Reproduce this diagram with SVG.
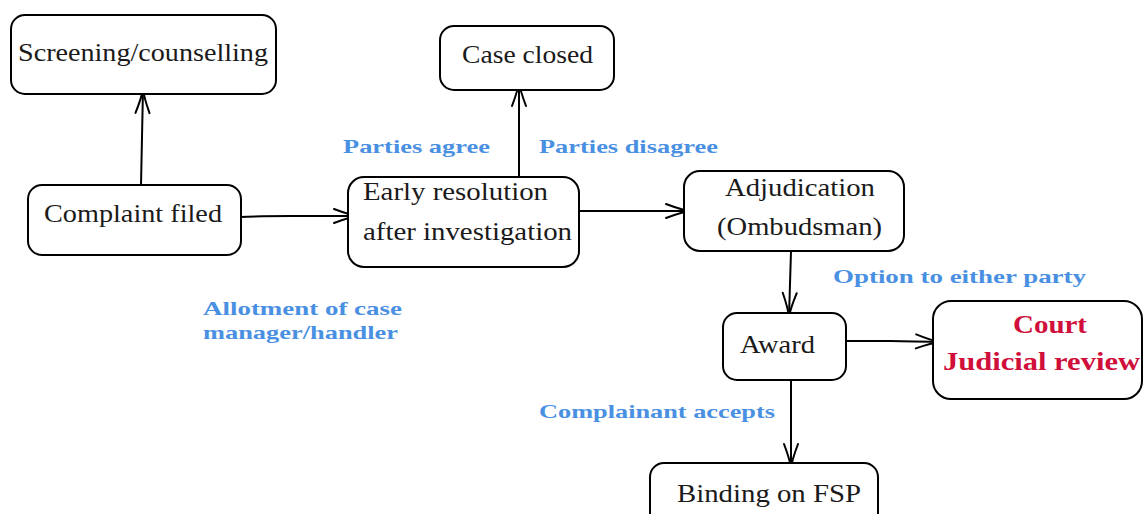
<svg xmlns="http://www.w3.org/2000/svg" width="1143" height="514" viewBox="0 0 1143 514">
<style>
.box{fill:#fff;stroke:#000;stroke-width:2}
text{font-family:'Liberation Serif','DejaVu Serif','Times New Roman',serif}
.t{font-size:26px;fill:#1a1a1a}
.b{font-size:19px;font-weight:bold;fill:#4a90e2}
.r{font-size:26px;font-weight:bold;fill:#d0103a}
.c{fill:none;stroke:#000;stroke-width:2;marker-end:url(#arr)}
</style>
<defs>
<marker id="arr" markerUnits="userSpaceOnUse" markerWidth="40" markerHeight="30" refX="0" refY="0" orient="auto" overflow="visible">
<path d="M-24,-7 Q-8,-1 0,0 Q-8,1 -24,7" fill="none" stroke="#000" stroke-width="2" stroke-linecap="round"/>
</marker>
</defs>
<rect width="1143" height="514" fill="#fff"/>
<g id="connectors">
<path class="c" d="M141,185 L143,89"/>
<path class="c" d="M240,217 Q260,216 290,216 L358,216"/>
<path class="c" d="M519,177 L519,82"/>
<path class="c" d="M579,211 L690,211"/>
<path class="c" d="M791,251 L789,317"/>
<path class="c" d="M846,341 L890,341 Q900,341 940,342"/>
<path class="c" d="M791,380 L791,468"/>
</g>
<g id="n-screening">
<rect class="box" x="11" y="15" width="265" height="79" rx="14"/>
<text class="t" font-family="Liberation Serif, DejaVu Serif, serif" x="18" y="61" textLength="250" lengthAdjust="spacingAndGlyphs">Screening/counselling</text>
</g>
<g id="n-complaint">
<rect class="box" x="28" y="185" width="213" height="70" rx="14"/>
<text class="t" x="44" y="222" textLength="178" lengthAdjust="spacingAndGlyphs">Complaint filed</text>
</g>
<g id="n-caseclosed">
<rect class="box" x="440" y="26" width="174" height="64" rx="14"/>
<text class="t" x="462" y="63" textLength="131" lengthAdjust="spacingAndGlyphs">Case closed</text>
</g>
<g id="n-early">
<rect class="box" x="348" y="177" width="231" height="90" rx="16"/>
<text class="t" x="363" y="200" textLength="185" lengthAdjust="spacingAndGlyphs">Early resolution</text>
<text class="t" x="363" y="240" textLength="209" lengthAdjust="spacingAndGlyphs">after investigation</text>
</g>
<g id="n-adjudication">
<rect class="box" x="684" y="171" width="220" height="80" rx="16"/>
<text class="t" x="725" y="196" textLength="150" lengthAdjust="spacingAndGlyphs">Adjudication</text>
<text class="t" x="717" y="235" textLength="165" lengthAdjust="spacingAndGlyphs">(Ombudsman)</text>
</g>
<g id="n-award">
<rect class="box" x="723" y="313" width="123" height="67" rx="14"/>
<text class="t" x="740" y="353" textLength="75" lengthAdjust="spacingAndGlyphs">Award</text>
</g>
<g id="n-court">
<rect class="box" x="933" y="301" width="209" height="98" rx="18"/>
<text class="r" x="1013" y="333" textLength="74" lengthAdjust="spacingAndGlyphs">Court</text>
<text class="r" x="943" y="370" textLength="197" lengthAdjust="spacingAndGlyphs">Judicial review</text>
</g>
<g id="n-binding">
<rect class="box" x="650" y="463" width="228" height="70" rx="14"/>
<text class="t" x="677" y="502" textLength="184" lengthAdjust="spacingAndGlyphs">Binding on FSP</text>
</g>
<g id="labels">
<text class="b" x="343" y="153" textLength="147" lengthAdjust="spacingAndGlyphs">Parties agree</text>
<text class="b" x="539" y="153" textLength="179" lengthAdjust="spacingAndGlyphs">Parties disagree</text>
<text class="b" x="833" y="283" textLength="253" lengthAdjust="spacingAndGlyphs">Option to either party</text>
<text class="b" x="203" y="315" textLength="199" lengthAdjust="spacingAndGlyphs">Allotment of case</text>
<text class="b" x="203" y="339" textLength="195" lengthAdjust="spacingAndGlyphs">manager/handler</text>
<text class="b" x="539" y="418" textLength="236" lengthAdjust="spacingAndGlyphs">Complainant accepts</text>
</g>
</svg>
